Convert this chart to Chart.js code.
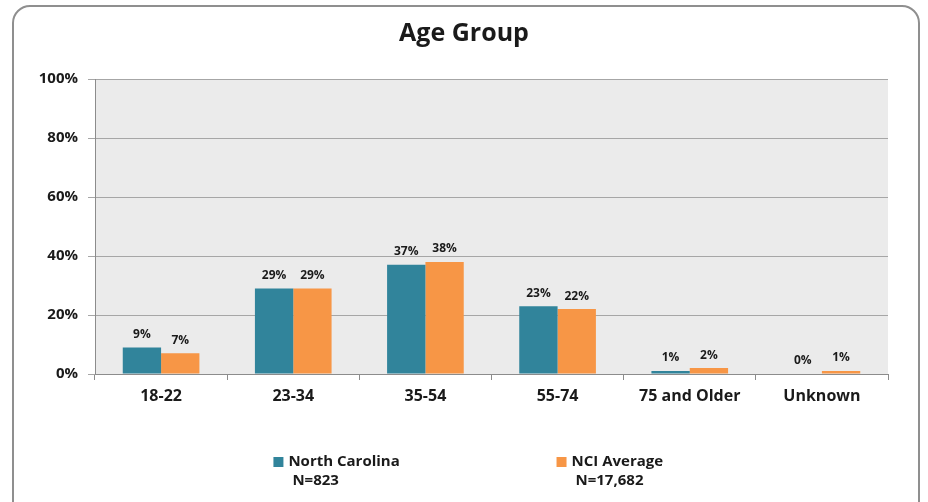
<!DOCTYPE html>
<html>
<head>
<meta charset="utf-8">
<script src="https://cdn.jsdelivr.net/npm/chart.js@4.4.1/dist/chart.umd.min.js"></script>
<style>
  html, body { margin:0; padding:0; background:#fff; overflow:hidden; }
  .frame { position:absolute; left:12px; top:5px; width:908px; height:520px; border:2px solid #8f8f8f; border-radius:18px; box-sizing:border-box; }
  .wrap { position:absolute; left:0; top:0; width:928px; height:502px; }
</style>
</head>
<body>
<div class="frame"></div>
<div class="wrap"><canvas id="ageChart"></canvas></div>
<script>
// ---- data ----
const categories = ['18-22', '23-34', '35-54', '55-74', '75 and Older', 'Unknown'];
const ncValues  = [9, 29, 37, 23, 1, 0];
const nciValues = [7, 29, 38, 22, 2, 1];
const seriesNames = ['North Carolina', 'NCI Average'];
const seriesN = ['N=823', 'N=17,682'];
const yTicks = [0, 20, 40, 60, 80, 100];

const TEAL = '#31849b';
const ORANGE = '#f79646';
const FONT = "'Open Sans', 'DejaVu Sans', sans-serif";

// grey plot background
const plotBg = {
  id: 'plotBg',
  beforeDraw(chart) {
    const { ctx, chartArea: a } = chart;
    ctx.save();
    ctx.fillStyle = '#ebebeb';
    ctx.fillRect(a.left, a.top, a.right - a.left, a.bottom - a.top);
    ctx.restore();
  }
};

// percent labels over each bar
const barLabels = {
  id: 'barLabels',
  afterDatasetsDraw(chart) {
    const ctx = chart.ctx;
    ctx.save();
    ctx.font = `bold 12px ${FONT}`;
    ctx.fillStyle = '#1a1a1a';
    ctx.textAlign = 'center';
    ctx.textBaseline = 'bottom';
    chart.data.datasets.forEach((ds, i) => {
      chart.getDatasetMeta(i).data.forEach((bar, j) => {
        ctx.fillText(Math.round(ds.data[j]) + '%', bar.x, bar.y - 7);
      });
    });
    ctx.restore();
  }
};

// two-line legend under the axis
const twoLineLegend = {
  id: 'twoLineLegend',
  afterDraw(chart) {
    const ctx = chart.ctx;
    const a = chart.chartArea;
    const w = a.right - a.left;
    const starts = [a.left + w * 0.225, a.left + w * 0.582];
    const y1 = a.bottom + 88, y2 = a.bottom + 107;
    ctx.save();
    ctx.font = `bold 15px ${FONT}`;
    ctx.textBaseline = 'middle';
    ctx.textAlign = 'left';
    chart.data.datasets.forEach((ds, i) => {
      const x = starts[i];
      ctx.fillStyle = ds.backgroundColor;
      ctx.fillRect(x, y1 - 5, 10, 10);
      ctx.fillStyle = '#1a1a1a';
      ctx.fillText(seriesNames[i], x + 15, y1);
      ctx.fillText(seriesN[i], x + 19, y2);
    });
    ctx.restore();
  }
};

new Chart(document.getElementById('ageChart'), {
  type: 'bar',
  data: {
    labels: categories,
    datasets: [
      { label: seriesNames[0], data: ncValues, backgroundColor: TEAL, borderWidth: 0 },
      { label: seriesNames[1], data: nciValues, backgroundColor: ORANGE, borderWidth: 0 }
    ]
  },
  options: {
    responsive: true,
    maintainAspectRatio: false,
    animation: false,
    layout: { padding: 0 },
    datasets: { bar: { categoryPercentage: 0.58, barPercentage: 1.0 } },
    plugins: {
      legend: { display: false },
      tooltip: { enabled: false },
      title: {
        display: true,
        text: 'Age Group',
        color: '#1a1a1a',
        font: { family: FONT, size: 25, weight: 'bold' },
        padding: { top: 19, bottom: 30 }
      }
    },
    scales: {
      x: {
        grid: { display: true, drawOnChartArea: false, offset: true, color: '#8c8c8c', tickLength: 6 },
        border: { display: true, color: '#8c8c8c', width: 1 },
        ticks: { color: '#1a1a1a', padding: 7, font: { family: FONT, size: 16, weight: 'bold' } },
        afterFit(scale) { scale.height = 128; }
      },
      y: {
        min: 0, max: 100,
        afterBuildTicks(scale) { scale.ticks = yTicks.map(v => ({ value: v })); },
        grid: { color: '#a6a6a6', tickLength: 7 },
        border: { display: true, color: '#8c8c8c', width: 1 },
        ticks: { color: '#1a1a1a', padding: 10, font: { family: FONT, size: 15, weight: 'bold' }, callback: v => v + '%' },
        afterFit(scale) { scale.width = 95; }
      },
      // empty right-hand margin so the title centres on the whole frame
      yRight: {
        position: 'right',
        grid: { display: false },
        border: { display: false },
        ticks: { display: false },
        afterFit(scale) { scale.width = 40; }
      }
    }
  },
  plugins: [plotBg, barLabels, twoLineLegend]
});
</script>
</body>
</html>
